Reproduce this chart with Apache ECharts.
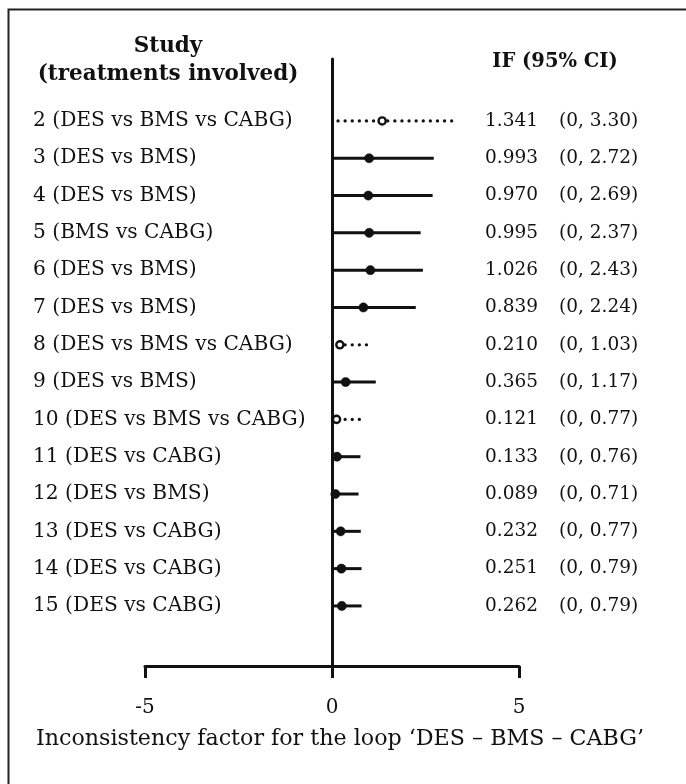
<!DOCTYPE html>
<html>
<head>
<meta charset="utf-8">
<title>Inconsistency factors</title>
<script src="https://cdn.jsdelivr.net/npm/echarts@6/dist/echarts.min.js"></script>
<style>
  html, body { margin: 0; padding: 0; background: #fff; }
  #chart { width: 686px; height: 784px; }
</style>
</head>
<body>
<div id="chart"></div>
<script>
// Studies (with the treatments they compare), top to bottom
var studies = [
  '2 (DES vs BMS vs CABG)',
  '3 (DES vs BMS)',
  '4 (DES vs BMS)',
  '5 (BMS vs CABG)',
  '6 (DES vs BMS)',
  '7 (DES vs BMS)',
  '8 (DES vs BMS vs CABG)',
  '9 (DES vs BMS)',
  '10 (DES vs BMS vs CABG)',
  '11 (DES vs CABG)',
  '12 (DES vs BMS)',
  '13 (DES vs CABG)',
  '14 (DES vs CABG)',
  '15 (DES vs CABG)'
];
// Inconsistency factor and its 95% CI
var ifValues = [1.341, 0.993, 0.970, 0.995, 1.026, 0.839, 0.210, 0.365, 0.121, 0.133, 0.089, 0.232, 0.251, 0.262];
var ciLower  = [0, 0, 0, 0, 0, 0, 0, 0, 0, 0, 0, 0, 0, 0];
var ciUpper  = [3.30, 2.72, 2.69, 2.37, 2.43, 2.24, 1.03, 1.17, 0.77, 0.76, 0.71, 0.77, 0.79, 0.79];
// Three-arm studies are drawn dotted with an open marker
var threeArm = [true, false, false, false, false, false, true, false, true, false, false, false, false, false];
var xTicks = [-5, 0, 5];

var FONT = 'DejaVu Serif';
var INK = '#111';
var rowIdx = studies.map(function (_, i) { return i; });
var ifText = ifValues.map(function (v) { return v.toFixed(3); });
var ciText = ciLower.map(function (lo, i) { return '(' + lo + ', ' + ciUpper[i].toFixed(2) + ')'; });

// Row range of the value axis: a little padding above the first and below the last study
var PAD_TOP = 1.66, PAD_BOTTOM = 1.61;
var yMin = -PAD_TOP, yMax = studies.length - 1 + PAD_BOTTOM;

function labelAxis(position, texts, margin, size) {
  return {
    type: 'value', position: position, inverse: true, min: yMin, max: yMax,
    axisLine: { show: false, onZero: false },
    axisTick: { show: false },
    splitLine: { show: false },
    axisLabel: {
      customValues: rowIdx,
      formatter: function (v) { return texts[Math.round(v)]; },
      align: 'left', margin: margin,
      fontFamily: FONT, fontSize: size, color: INK
    }
  };
}

var data = rowIdx.map(function (i) {
  return [ciLower[i], ciUpper[i], ifValues[i], i, threeArm[i] ? 1 : 0];
});

var chart = echarts.init(document.getElementById('chart'));
chart.setOption({
  animation: false,
  backgroundColor: '#fff',
  textStyle: { fontFamily: FONT },
  grid: { left: 145, right: 167, top: 59, bottom: 118 },
  title: [
    {
      text: 'Study\n(treatments involved)',
      left: 163, top: 27, textAlign: 'center',
      textStyle: { fontFamily: FONT, fontSize: 21.5, fontWeight: 'bold', color: INK, lineHeight: 28, align: 'center' }
    },
    {
      text: 'IF (95% CI)',
      left: 550, top: 47, textAlign: 'center',
      textStyle: { fontFamily: FONT, fontSize: 19.5, fontWeight: 'bold', color: INK }
    }
  ],
  graphic: [{
    type: 'rect', left: 6, top: 7, z: 100,
    shape: { width: 720, height: 820 },
    style: { fill: 'none', stroke: '#222', lineWidth: 2 }
  }],
  xAxis: {
    type: 'value', min: -5, max: 5, interval: 5,
    axisLine: { show: true, onZero: false, lineStyle: { color: INK, width: 3 } },
    axisTick: { show: true, length: 12, lineStyle: { color: INK, width: 3 } },
    splitLine: { show: false },
    axisLabel: {
      customValues: xTicks,
      margin: 32, fontFamily: FONT, fontSize: 20, color: INK,
      formatter: function (v) { return String(v); }
    },
    name: 'Inconsistency factor for the loop \u2018DES \u2013 BMS \u2013 CABG\u2019',
    nameLocation: 'middle', nameGap: 62,
    nameTextStyle: { fontFamily: FONT, fontSize: 22.2, color: INK, padding: [0, 0, 0, 16] }
  },
  yAxis: [
    {
      type: 'value', inverse: true, min: yMin, max: yMax,
      axisLine: { show: true, onZero: true, lineStyle: { color: INK, width: 3 } },
      axisTick: { show: false }, axisLabel: { show: false }, splitLine: { show: false }
    },
    labelAxis('left', studies, 112, 20.2),
    labelAxis('right', ifText, -34, 18.5),
    labelAxis('right', ciText, 40, 18.5)
  ],
  series: [{
    type: 'custom',
    xAxisIndex: 0, yAxisIndex: 0,
    clip: false,
    data: data,
    encode: { x: [0, 1, 2], y: 3 },
    renderItem: function (params, api) {
      var lo = api.coord([api.value(0), api.value(3)]);
      var hi = api.coord([api.value(1), api.value(3)]);
      var pt = api.coord([api.value(2), api.value(3)]);
      var dotted = api.value(4) === 1;
      var line = {
        type: 'line',
        shape: { x1: lo[0], y1: lo[1], x2: hi[0], y2: hi[1] },
        style: dotted
          ? { stroke: INK, lineWidth: 3.2, lineDash: [0.1, 7], lineDashOffset: -6, lineCap: 'round' }
          : { stroke: INK, lineWidth: 3 }
      };
      var dot = {
        type: 'circle',
        shape: { cx: pt[0], cy: pt[1], r: dotted ? 3.6 : 4.6 },
        style: dotted
          ? { fill: '#fff', stroke: INK, lineWidth: 2.4 }
          : { fill: INK, stroke: INK, lineWidth: 0.5 }
      };
      return { type: 'group', children: [line, dot] };
    }
  }]
});
</script>
</body>
</html>
